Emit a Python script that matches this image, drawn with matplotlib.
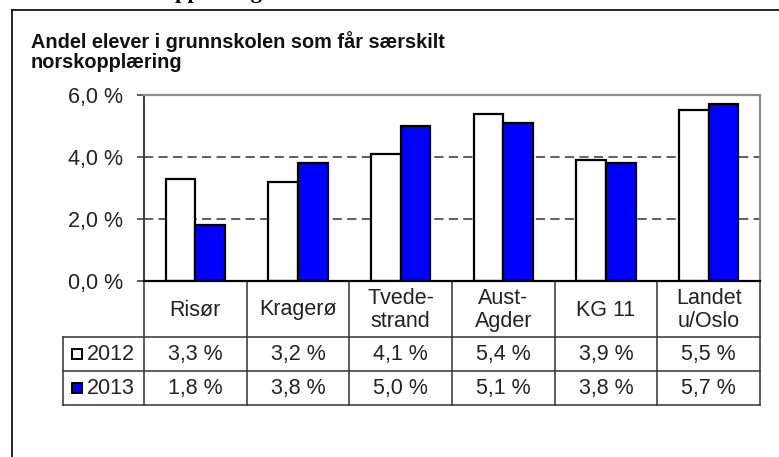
import numpy as np
import matplotlib.pyplot as plt
import matplotlib.transforms as mtransforms
from matplotlib.lines import Line2D

plt.rcParams['font.family'] = ['Liberation Sans', 'DejaVu Sans']

# =========================
# DATA
# =========================
categories = ["Risør", "Kragerø", "Tvede-\nstrand", "Aust-\nAgder", "KG 11", "Landet\nu/Oslo"]
years = ["2012", "2013"]
vals_2012 = [3.3, 3.2, 4.1, 5.4, 3.9, 5.5]
vals_2013 = [1.8, 3.8, 5.0, 5.1, 3.8, 5.7]
yticks = [0, 2, 4, 6]
title_lines = ["Andel elever i grunnskolen som får særskilt", "norskopplæring"]
heading = "opplæring"

series = [vals_2012, vals_2013]
colors = ["white", "#0000ff"]

def pct(v):
    return f"{v:.1f} %".replace(".", ",")

# =========================
# FIGURE
# =========================
W, H = 779, 457
fig = plt.figure(figsize=(W / 100, H / 100), dpi=100)

def fx(px):
    return px / W

def fy(py):
    return 1 - py / H

# cut-off heading from the page above + the frame round the chart
fig.text(fx(164), fy(-2.5), heading, family="Liberation Serif", fontweight="bold",
         fontsize=16, va="baseline")
fig.add_artist(Line2D([fx(12), fx(12)], [0, fy(10)], color="black", lw=1.2))
fig.add_artist(Line2D([fx(12), 1], [fy(10), fy(10)], color="black", lw=1.2))

for i, line in enumerate(title_lines):
    fig.text(fx(31), fy(48 + 20 * i), line, fontweight="bold", fontsize=14.3,
             va="baseline", color="#111111")

# plot area
ax_top, ax_bot = 95, 281
ax = fig.add_axes([fx(144), fy(ax_bot), fx(760) - fx(144), (ax_bot - ax_top) / H])

x = np.arange(len(categories))
bw = 0.29
for k, (v, c) in enumerate(zip(series, colors)):
    ax.bar(x + (k - 0.5) * bw, v, width=bw, color=c, edgecolor="black",
           linewidth=1.6, zorder=3)

ax.set_xlim(-0.5, len(categories) - 0.5)
ax.set_ylim(yticks[0], yticks[-1])
ax.set_yticks(yticks)
ax.set_yticklabels([pct(t) for t in yticks])
ax.set_xticks([])
ax.tick_params(axis="y", length=5, width=1.2, color="#404040", pad=10,
               labelsize=15.5, labelcolor="#222222")

for t in yticks[1:-1]:
    ax.axhline(t, color="#333333", lw=1.1, linestyle=(0, (6, 3.5)), zorder=1)

for s in ["top", "right"]:
    ax.spines[s].set_color("#8c8c8c")
    ax.spines[s].set_linewidth(1.6)
ax.spines["left"].set_color("#404040")
ax.spines["left"].set_linewidth(1.5)
ax.spines["bottom"].set_color("black")
ax.spines["bottom"].set_linewidth(1.6)
ax.spines["bottom"].set_zorder(4)

# =========================
# DATA TABLE
# =========================
trans = mtransforms.blended_transform_factory(ax.transData, ax.transAxes)

def ay(py):
    return (ax_bot - py) / (ax_bot - ax_top)

col_w = (760 - 144) / len(categories)
x_left = -0.5 - (144 - 63) / col_w
row_edges = [281, 337, 371, 405]
lc = "#333333"

for i in range(len(categories) + 1):
    ax.plot([i - 0.5, i - 0.5], [ay(row_edges[0]), ay(row_edges[-1])], color=lc,
            lw=1.1, transform=trans, clip_on=False)
ax.plot([x_left, x_left], [ay(row_edges[1]), ay(row_edges[-1])], color=lc,
        lw=1.1, transform=trans, clip_on=False)
for py in row_edges[1:]:
    ax.plot([x_left, len(categories) - 0.5], [ay(py), ay(py)], color=lc,
            lw=1.1, transform=trans, clip_on=False)

for i, cat in enumerate(categories):
    ax.text(i, ay((row_edges[0] + row_edges[1]) / 2 + 1), cat, transform=trans,
            ha="center", va="center", fontsize=15.5, color="#222222",
            linespacing=1.15)

for r, (yr, v, c) in enumerate(zip(years, series, colors)):
    yc = ay((row_edges[r + 1] + row_edges[r + 2]) / 2)
    ax.plot([-0.5 - (144 - 77) / col_w], [yc], marker="s", ms=7.5, mfc=c,
            mec="black", mew=1.4, transform=trans, clip_on=False)
    ax.text(-0.5 - (144 - 87) / col_w, yc, yr, transform=trans, ha="left",
            va="center", fontsize=15.5, color="#222222")
    for i, val in enumerate(v):
        ax.text(i, yc, pct(val), transform=trans, ha="center", va="center",
                fontsize=15.5, color="#222222")

fig.savefig("out.png", dpi=100)
